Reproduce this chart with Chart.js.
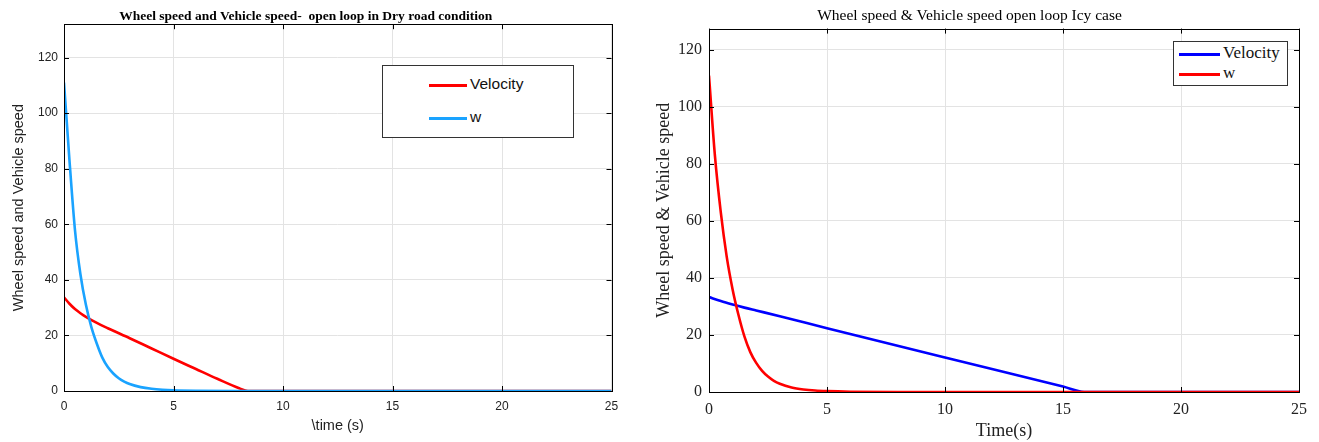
<!DOCTYPE html>
<html>
<head>
<meta charset="utf-8">
<script src="https://cdn.jsdelivr.net/npm/chart.js@4/dist/chart.umd.min.js"></script>
<style>
  body { margin: 0; background: #fff; }
  .wrap { position: absolute; top: 0; height: 442px; }
  .legend { position: absolute; background: #fff; border: 1px solid #333; box-sizing: border-box; }
  .item { position: absolute; white-space: nowrap; }
  .swatch { position: absolute; height: 3px; }
</style>
</head>
<body>
<div class="wrap" id="leftWrap" style="left:0;width:640px"><canvas id="dry"></canvas></div>
<div class="wrap" id="rightWrap" style="left:640px;width:679px"><canvas id="icy"></canvas></div>

<script>
// dry road
const dryVelT = [0, 0.25, 0.5, 0.75, 1, 1.5, 2, 3, 4, 5, 6, 7, 8, 8.4, 25];
const dryVel  = [33.7, 31.4, 29.5, 28, 26.7, 24.5, 22.6, 19, 15.3, 11.6, 8, 4.4, 1, 0, 0];
const dryWT = [0, 0.125, 0.25, 0.5, 0.75, 1, 1.25, 1.5, 1.75, 2, 2.25, 2.5, 2.75, 3, 3.5, 4, 4.5, 5, 6, 8, 25];
const dryW  = [111, 97, 83, 58, 42, 31, 23, 17, 12, 8.6, 6.3, 4.6, 3.4, 2.5, 1.4, 0.8, 0.45, 0.25, 0.08, 0, 0];

// icy road
const icyVelT = [0, 0.5, 1, 1.5, 2, 3, 5, 10, 15, 15.9, 25];
const icyVel  = [33.3, 31.9, 30.7, 29.6, 28.6, 26.6, 22.4, 12.1, 1.9, 0, 0];
const icyWT = [0, 0.25, 0.5, 0.75, 1, 1.25, 1.5, 1.75, 2, 2.25, 2.5, 2.75, 3, 3.5, 4, 4.5, 5, 6, 8, 25];
const icyW  = [111, 83, 63, 47.5, 36, 27, 19.5, 14, 10.2, 7.4, 5.4, 3.9, 2.9, 1.6, 0.9, 0.5, 0.3, 0.1, 0, 0];

const xTicks = [0, 5, 10, 15, 20, 25];
const yTicks = [0, 20, 40, 60, 80, 100, 120];

const pts = (xs, ys) => xs.map((x, i) => ({ x: x, y: ys[i] }));

// MATLAB style box with inward tick marks
const boxPlugin = {
  id: 'box',
  afterDraw(chart) {
    const { ctx, chartArea: a, scales } = chart;
    ctx.save();
    ctx.strokeStyle = '#000';
    ctx.lineWidth = 1;
    ctx.beginPath();
    const len = 5;
    scales.x.ticks.forEach(t => {
      const px = Math.round(scales.x.getPixelForValue(t.value)) + 0.5;
      ctx.moveTo(px, a.bottom); ctx.lineTo(px, a.bottom - len);
      ctx.moveTo(px, a.top); ctx.lineTo(px, a.top + len);
    });
    scales.y.ticks.forEach(t => {
      const py = Math.round(scales.y.getPixelForValue(t.value)) + 0.5;
      ctx.moveTo(a.left, py); ctx.lineTo(a.left + len, py);
      ctx.moveTo(a.right, py); ctx.lineTo(a.right - len, py);
    });
    ctx.stroke();
    ctx.strokeRect(Math.round(a.left) + 0.5, Math.round(a.top) + 0.5,
                   Math.round(a.right - a.left), Math.round(a.bottom - a.top));
    ctx.restore();
  }
};

function makeChart(id, cfg) {
  return new Chart(document.getElementById(id), {
    type: 'scatter',
    data: {
      datasets: [
        { label: 'w', data: cfg.w, borderColor: cfg.wColor, borderWidth: 2.6, order: 0 },
        { label: 'Velocity', data: cfg.vel, borderColor: cfg.velColor, borderWidth: 2.6, order: 1 }
      ].map(d => Object.assign(d, { showLine: true, pointRadius: 0, cubicInterpolationMode: 'monotone', fill: false }))
    },
    options: {
      responsive: true,
      maintainAspectRatio: false,
      animation: false,
      layout: { padding: { left: 0, right: cfg.padRight, top: 0, bottom: 0 } },
      plugins: {
        legend: { display: false },
        tooltip: { enabled: false },
        title: {
          display: true, text: cfg.title, color: '#000',
          font: cfg.titleFont, padding: cfg.titlePad
        }
      },
      scales: {
        x: {
          type: 'linear', min: 0, max: 25,
          afterBuildTicks: s => { s.ticks = xTicks.map(v => ({ value: v })); },
          afterFit: s => { s.height = cfg.xHeight; },
          ticks: { color: '#222', font: cfg.tickFont, padding: cfg.xTickPad, maxRotation: 0 },
          grid: { color: '#e3e3e3', drawTicks: false },
          border: { display: false },
          title: { display: true, text: cfg.xTitle, color: '#222', font: cfg.axisFont, padding: cfg.xTitlePad }
        },
        y: {
          type: 'linear', min: 0, max: cfg.yMax,
          afterBuildTicks: s => { s.ticks = yTicks.map(v => ({ value: v })); },
          afterFit: s => { s.width = cfg.yWidth; },
          ticks: { color: '#222', font: cfg.tickFont, padding: cfg.yTickPad },
          grid: { color: '#e3e3e3', drawTicks: false },
          border: { display: false },
          title: { display: true, text: cfg.yTitle, color: '#222', font: cfg.axisFont, padding: cfg.yTitlePad }
        }
      }
    },
    plugins: [boxPlugin]
  });
}

makeChart('dry', {
  title: 'Wheel speed and Vehicle speed-  open loop in Dry road condition',
  titleFont: { family: 'Liberation Serif', size: 13.5, weight: 'bold' },
  titlePad: { top: 8, bottom: 0 },
  tickFont: { family: 'Liberation Sans', size: 12 },
  axisFont: { family: 'Liberation Sans', size: 14.5 },
  xTitle: '\\time (s)', yTitle: 'Wheel speed and Vehicle speed',
  xTitlePad: { top: 0, bottom: 7 }, yTitlePad: { top: 10, bottom: 0 },
  xTickPad: 8, yTickPad: 6,
  xHeight: 51, yWidth: 64, padRight: 28.5, yMax: 132,
  vel: pts(dryVelT, dryVel), velColor: '#ff0000',
  w: pts(dryWT, dryW), wColor: '#1aa3ff'
});

makeChart('icy', {
  title: 'Wheel speed & Vehicle speed open loop Icy case',
  titleFont: { family: 'Liberation Serif', size: 15.5, weight: 'normal' },
  titlePad: { top: 7, bottom: 3 },
  tickFont: { family: 'Liberation Serif', size: 16 },
  axisFont: { family: 'Liberation Serif', size: 18 },
  xTitle: 'Time(s)', yTitle: 'Wheel speed & Vehicle speed',
  xTitlePad: { top: 0, bottom: 0 }, yTitlePad: { top: 13, bottom: 0 },
  xTickPad: 8, yTickPad: 7,
  xHeight: 50, yWidth: 69, padRight: 20, yMax: 127.5,
  vel: pts(icyVelT, icyVel), velColor: '#0000ff',
  w: pts(icyWT, icyW), wColor: '#ff0000'
});

// legends
function legend(wrapId, box, items, font) {
  const lg = document.createElement('div');
  lg.className = 'legend';
  Object.assign(lg.style, { left: box.x + 'px', top: box.y + 'px', width: box.w + 'px', height: box.h + 'px' });
  items.forEach(it => {
    const sw = document.createElement('div');
    sw.className = 'swatch';
    Object.assign(sw.style, { left: box.lineX + 'px', width: box.lineW + 'px', top: (it.y - 1.5) + 'px', background: it.color });
    const tx = document.createElement('div');
    tx.className = 'item';
    tx.textContent = it.label;
    Object.assign(tx.style, { left: (box.lineX + box.lineW + 3) + 'px', top: (it.y - box.fs * 0.62) + 'px', font: box.fs + 'px ' + font, color: '#111' });
    lg.appendChild(sw); lg.appendChild(tx);
  });
  document.getElementById(wrapId).appendChild(lg);
}

legend('leftWrap', { x: 382, y: 65, w: 192, h: 73, lineX: 46, lineW: 38, fs: 15.5 },
  [{ label: 'Velocity', color: '#ff0000', y: 19 }, { label: 'w', color: '#1aa3ff', y: 52 }], '"Liberation Sans"');
legend('rightWrap', { x: 533, y: 41, w: 115, h: 45, lineX: 5, lineW: 41, fs: 17 },
  [{ label: 'Velocity', color: '#0000ff', y: 12 }, { label: 'w', color: '#ff0000', y: 32 }], '"Liberation Serif"');
</script>
</body>
</html>
